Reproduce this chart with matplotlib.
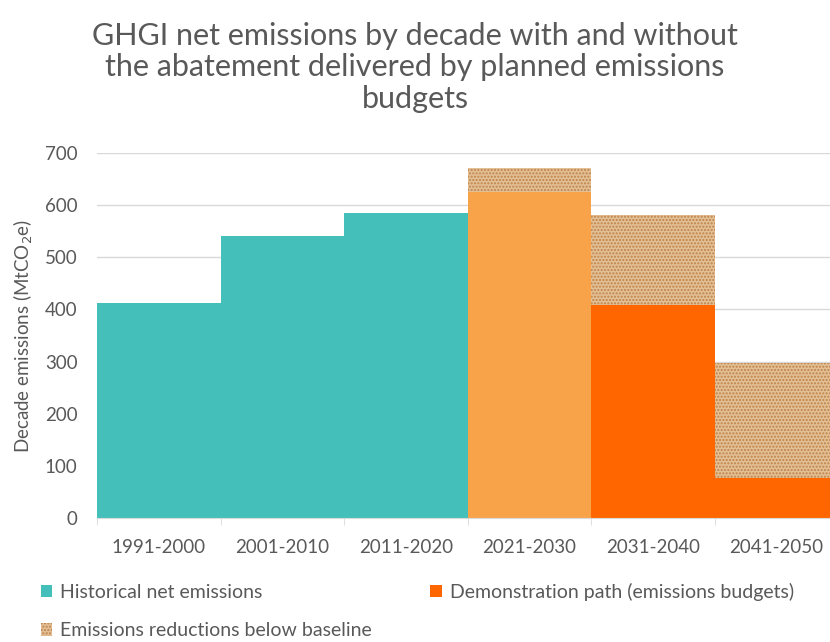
import numpy as np
import matplotlib.pyplot as plt

plt.rcParams['font.family'] = ['Lato', 'DejaVu Sans']
plt.rcParams['hatch.linewidth'] = 1.0

decades = ['1991-2000', '2001-2010', '2011-2020', '2021-2030', '2031-2040', '2041-2050']
historical = [412, 541, 585]
path = [625, 408, 77]          # demonstration path, 2021-2050
baseline = [671, 581, 297]     # without the budget abatement

teal = '#44BFBA'
light_orange = '#F8A24A'
dark_orange = '#FF6600'
text_grey = '#595959'

fig = plt.figure(figsize=(8.3, 6.42), dpi=100)
ax = fig.add_axes([97 / 830, 1 - 518 / 642, 741 / 830, 365 / 642])

x = np.arange(len(decades))
x_hist = x[:3]
x_fut = x[3:]

reductions = np.array(baseline) - np.array(path)

h_hist = ax.bar(x_hist, historical, width=1.0, color=teal, zorder=2)
ax.bar(x_fut[:1], path[:1], width=1.0, color=light_orange, zorder=2)
h_path = ax.bar(x_fut[1:], path[1:], width=1.0, color=dark_orange, zorder=2)
h_red = ax.bar(x_fut, reductions, bottom=path, width=1.0, color='#E2BF95',
               edgecolor='#BF8247', hatch='.....', linewidth=0, zorder=2)

ax.set_xlim(-0.5, 5.5)
ax.set_ylim(0, 700)
ax.set_yticks(range(0, 701, 100))
ax.yaxis.grid(True, color='#D9D9D9', linewidth=1)
ax.set_axisbelow(True)

for s in ['top', 'right', 'left']:
    ax.spines[s].set_visible(False)
ax.spines['bottom'].set_color('#D9D9D9')

ax.set_xticks(x)
ax.set_xticklabels(decades)
ax.set_xticks(np.arange(-0.5, 6, 1.0), minor=True)
ax.tick_params(axis='x', which='major', length=0, pad=15, labelsize=13.5, labelcolor=text_grey)
ax.tick_params(axis='x', which='minor', length=5, color='#D9D9D9')
ax.tick_params(axis='y', length=0, pad=14, labelsize=13.5, labelcolor=text_grey)

ax.set_ylabel('Decade emissions (MtCO$_2$e)', fontsize=13.5, color=text_grey, labelpad=7)

fig.text(0.5, 1 - 22 / 642, 'GHGI net emissions by decade with and without\n'
         'the abatement delivered by planned emissions\nbudgets',
         ha='center', va='top', fontsize=22, color=text_grey, linespacing=1.15)

leg = fig.legend([h_hist, h_red, h_path],
                 ['Historical net emissions', 'Emissions reductions below baseline',
                  'Demonstration path (emissions budgets)'],
                 ncol=2, loc='upper left', bbox_to_anchor=(33 / 830, 1 - 575 / 642),
                 frameon=False, fontsize=14, handlelength=0.6, handleheight=0.6,
                 handletextpad=0.4, columnspacing=3.0, labelspacing=1.1,
                 labelcolor=text_grey, borderaxespad=0)

fig.savefig('out.png', dpi=100)
